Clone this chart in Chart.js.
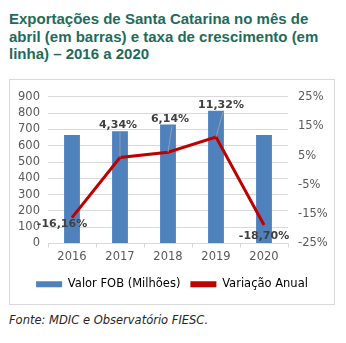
<!DOCTYPE html>
<html>
<head>
<meta charset="utf-8">
<script src="https://cdn.jsdelivr.net/npm/chart.js@4"></script>
<style>
  body { margin: 0; background: #fff; font-family: "DejaVu Sans", sans-serif; }
  #title { position: absolute; left: 9px; top: 10px; width: 325px; color: #1f6b5b;
           font-family: "Liberation Sans", sans-serif;
           font-weight: bold; font-size: 15px; line-height: 17.5px; }
  #box { position: absolute; left: 9px; top: 79px; width: 324px; height: 224px; border: 1px solid #d9d9d9; }
  #source { position: absolute; left: 9px; top: 313px; font-style: italic; font-size: 11.5px; color: #262626; }
</style>
</head>
<body>
<div id="title">Exportações de Santa Catarina no mês de abril (em barras) e taxa de crescimento (em linha) – 2016 a 2020</div>
<div id="box"><canvas id="mychart" width="324" height="224"></canvas></div>
<div id="source">Fonte: MDIC e Observatório FIESC.</div>
<script>
// years on the x-axis
var years = ['2016','2017','2018','2019','2020'];
// bars: export value in millions
var fobValues = [666, 689, 731, 815, 666];
// line: annual growth rate in %
var growthRates = [-16.16, 4.34, 6.14, 11.32, -18.70];

// label offsets relative to each point (px)
var labelOffsets = [[-10, 7], [-2, -32], [2, -33], [5, -32], [0, 11]];

var pointLabels = {
  id: 'pointLabels',
  afterDatasetsDraw: function(chart) {
    var ctx = chart.ctx;
    var meta = chart.getDatasetMeta(0);
    ctx.save();
    ctx.font = 'bold 11px "DejaVu Sans"';
    ctx.fillStyle = '#404040';
    ctx.textAlign = 'center';
    ctx.textBaseline = 'middle';
    meta.data.forEach(function(pt, i) {
      var off = labelOffsets[i];
      var x = pt.x + off[0], y = pt.y + off[1];
      if (off[1] < -20) {
        ctx.strokeStyle = '#a6a6a6';
        ctx.lineWidth = 0.8;
        ctx.beginPath();
        ctx.moveTo(pt.x, pt.y);
        ctx.lineTo(x + 2, y + 7);
        ctx.stroke();
      }
      ctx.fillText(growthRates[i].toFixed(2).replace('.', ',') + '%', x, y);
    });
    ctx.restore();
  }
};

var tickFont = { size: 11.5, family: 'DejaVu Sans' };

var ctx = document.getElementById('mychart');
var myChart = new Chart(ctx, {
  data: {
    labels: years,
    datasets: [{
      type: 'line',
      label: 'Variação Anual',
      data: growthRates,
      yAxisID: 'y1',
      borderColor: '#c00000',
      backgroundColor: '#c00000',
      borderWidth: 3,
      pointRadius: 0,
      order: 0
    }, {
      type: 'bar',
      label: 'Valor FOB (Milhões)',
      data: fobValues,
      yAxisID: 'y',
      backgroundColor: '#4f81bd',
      categoryPercentage: 1,
      barPercentage: 0.33,
      order: 1
    }]
  },
  plugins: [pointLabels],
  options: {
    responsive: false,
    animation: false,
    layout: { padding: { left: 0, right: 0, top: 14, bottom: 4 } },
    plugins: {
      legend: {
        position: 'bottom',
        reverse: true,
        labels: {
          color: '#595959',
          font: tickFont,
          boxWidth: 26,
          boxHeight: 6,
          padding: 10,
          generateLabels: function(chart) {
            return chart.data.datasets.map(function(ds, i) {
              return {
                text: ds.label,
                fillStyle: ds.backgroundColor,
                strokeStyle: ds.backgroundColor,
                lineWidth: 0,
                datasetIndex: i,
                hidden: false
              };
            });
          }
        }
      },
      tooltip: { enabled: false }
    },
    scales: {
      x: {
        grid: { drawOnChartArea: false, color: '#d9d9d9', tickLength: 4 },
        border: { color: '#d9d9d9' },
        ticks: { color: '#595959', font: tickFont, padding: 3 },
        afterFit: function(s) { s.height = 25; }
      },
      y: {
        position: 'left',
        min: 0, max: 900,
        ticks: { stepSize: 100, autoSkip: false, color: '#595959', font: tickFont, padding: 8 },
        grid: { color: '#d9d9d9', drawTicks: false },
        border: { display: false },
        afterFit: function(s) { s.width = 38; }
      },
      y1: {
        position: 'right',
        min: -25, max: 25,
        ticks: { stepSize: 10, autoSkip: false, color: '#595959', font: tickFont,
                 callback: function(v) { return v + '%'; }, padding: 10 },
        grid: { display: false, drawTicks: false },
        border: { display: false },
        afterFit: function(s) { s.width = 46; }
      }
    }
  }
});
</script>
</body>
</html>
